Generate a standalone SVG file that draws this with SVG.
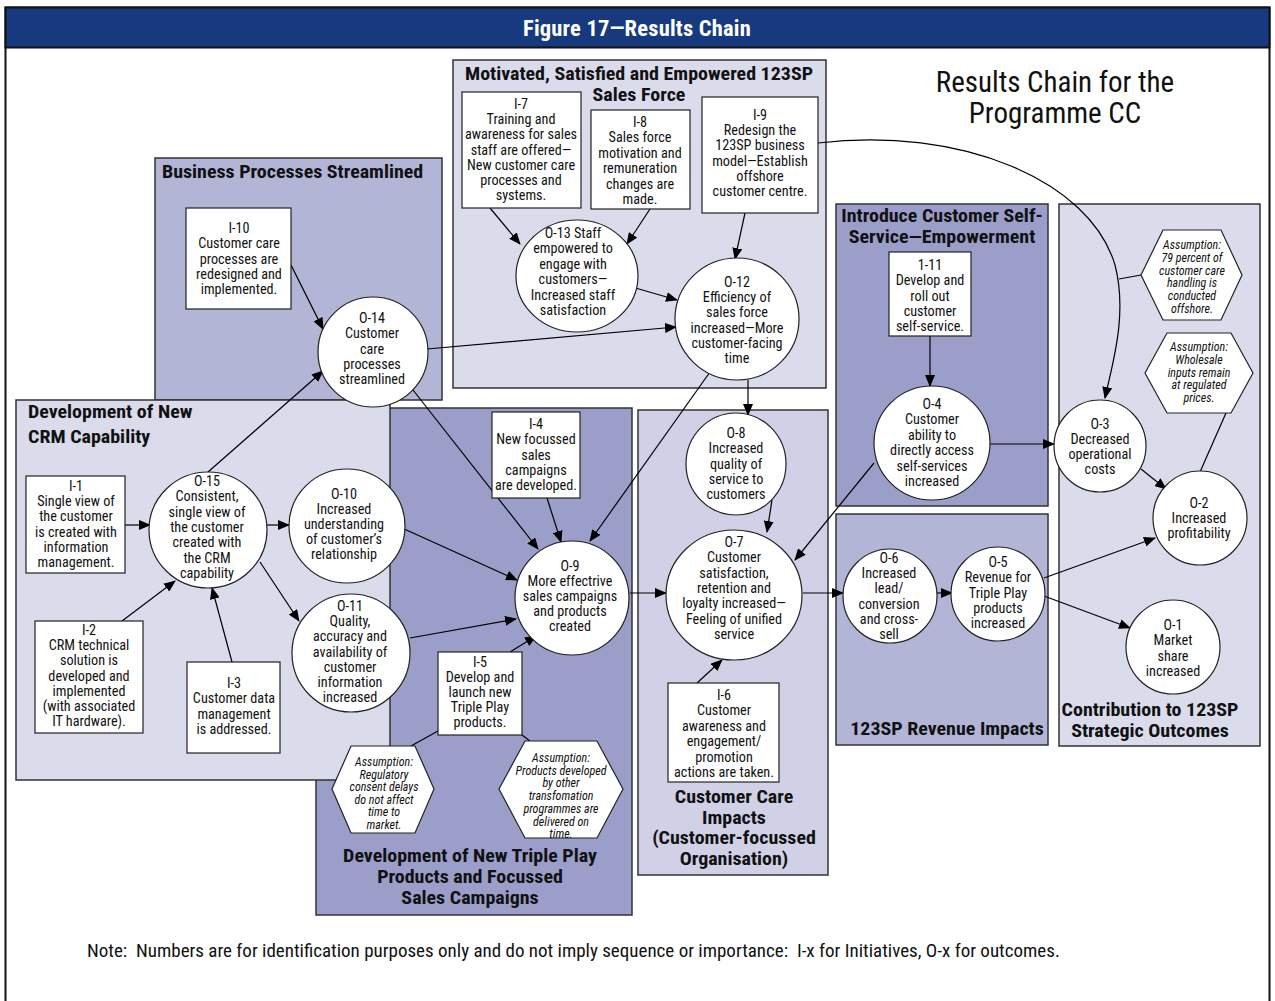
<svg xmlns="http://www.w3.org/2000/svg" width="1275" height="1001" viewBox="0 0 1275 1001">
  <defs>
    <marker id="arr" markerWidth="12" markerHeight="10" refX="11" refY="5" orient="auto" markerUnits="userSpaceOnUse">
      <path d="M0,0 L12,5 L0,10 Z" fill="#000"/>
    </marker>
    <style>
      text { font-family: "Liberation Sans Narrow", "Roboto Condensed", "DejaVu Sans Condensed", "Liberation Sans", sans-serif; fill: #111; }
      .n { font-size: 14.2px; text-anchor: middle; }
      .a { font-size: 12px; font-style: italic; text-anchor: middle; }
      .h { font-size: 18px; font-weight: bold; }
      .hc { font-size: 18px; font-weight: bold; text-anchor: middle; }
      .box { fill: #fff; stroke: #222; stroke-width: 1.2; }
      .circ { fill: #fff; stroke: #222; stroke-width: 1.2; }
      .hex { fill: #fff; stroke: #222; stroke-width: 1.2; }
      .pan { stroke: #333; stroke-width: 1.5; }
      .light { fill: #dadbeb; }
      .mid { fill: #b2b5d6; }
      .dark { fill: #9b9ec8; }
      .care { fill: #d0d1e6; }
      .con line, .con path { stroke: #000; stroke-width: 1.2; fill: none; }
    </style>
  </defs>

  <!-- page frame and heading band -->
  <rect x="5.5" y="7.5" width="1264" height="1000" fill="#fff" stroke="#111" stroke-width="2"/>
  <rect x="5.5" y="7.5" width="1264" height="40" fill="#173a7e" stroke="#111" stroke-width="2"/>
  <text x="637" y="35.5" style="font-size:22.5px;font-weight:bold;fill:#fff;text-anchor:middle;letter-spacing:0.2px">Figure 17—Results Chain</text>

  <text x="1055" y="92" style="font-size:29px;text-anchor:middle">Results Chain for the</text>
  <text x="1055" y="123" style="font-size:29px;text-anchor:middle">Programme CC</text>

  <!-- grouping panels (bold captions are widened horizontally) -->
  <g id="panel-triple-play">
    <rect class="pan dark" x="316" y="408" width="316" height="507"/>
    <text class="hc" transform="translate(470,862) scale(1.11,1)" x="0" y="0">Development of New Triple Play<tspan x="0" dy="21">Products and Focussed</tspan><tspan x="0" dy="21">Sales Campaigns</tspan></text>
  </g>
  <g id="panel-business-processes">
    <rect class="pan mid" x="155" y="158" width="287" height="242"/>
    <text class="h" transform="translate(162,178) scale(1.11,1)" x="0" y="0">Business Processes Streamlined</text>
  </g>
  <g id="panel-crm">
    <rect class="pan light" x="16" y="400" width="374" height="380"/>
    <text class="h" transform="translate(28,418) scale(1.11,1)" x="0" y="0">Development of New<tspan x="0" dy="25">CRM Capability</tspan></text>
  </g>
  <g id="panel-sales-force">
    <rect class="pan light" x="453" y="60" width="373" height="328"/>
    <text class="hc" transform="translate(639,80) scale(1.11,1)" x="0" y="0">Motivated, Satisfied and Empowered 123SP<tspan x="0" dy="21">Sales Force</tspan></text>
  </g>
  <g id="panel-customer-care">
    <rect class="pan care" x="638" y="410" width="190" height="465"/>
    <text class="hc" transform="translate(734,803) scale(1.11,1)" x="0" y="0">Customer Care<tspan x="0" dy="20.7">Impacts</tspan><tspan x="0" dy="20.7">(Customer-focussed</tspan><tspan x="0" dy="20.7">Organisation)</tspan></text>
  </g>
  <g id="panel-self-service">
    <rect class="pan dark" x="836" y="204" width="212" height="302"/>
    <text class="hc" transform="translate(942,222) scale(1.11,1)" x="0" y="0">Introduce Customer Self-<tspan x="0" dy="21">Service—Empowerment</tspan></text>
  </g>
  <g id="panel-revenue">
    <rect class="pan mid" x="836" y="514" width="212" height="231"/>
    <text class="hc" transform="translate(947,735) scale(1.11,1)" x="0" y="0">123SP Revenue Impacts</text>
  </g>
  <g id="panel-strategic">
    <rect class="pan light" x="1059" y="204" width="201" height="542"/>
    <text class="hc" transform="translate(1150,716) scale(1.11,1)" x="0" y="0">Contribution to 123SP<tspan x="0" dy="21">Strategic Outcomes</tspan></text>
  </g>

  <!-- connectors -->
  <g id="connectors" class="con">
    <line x1="490" y1="208" x2="520" y2="244" marker-end="url(#arr)"/>
    <line x1="650" y1="209" x2="627" y2="244" marker-end="url(#arr)"/>
    <line x1="745" y1="213" x2="735" y2="259" marker-end="url(#arr)"/>
    <line x1="632" y1="287" x2="677" y2="300" marker-end="url(#arr)"/>
    <line x1="427" y1="349" x2="676" y2="327" marker-end="url(#arr)"/>
    <line x1="291" y1="265" x2="323" y2="329" marker-end="url(#arr)"/>
    <line x1="208" y1="472" x2="323" y2="371" marker-end="url(#arr)"/>
    <line x1="413" y1="390" x2="538" y2="549" marker-end="url(#arr)"/>
    <line x1="547" y1="498" x2="561" y2="542" marker-end="url(#arr)"/>
    <line x1="710" y1="372" x2="590" y2="541" marker-end="url(#arr)"/>
    <line x1="748" y1="380" x2="748" y2="415" marker-end="url(#arr)"/>
    <line x1="402" y1="528" x2="517" y2="580" marker-end="url(#arr)"/>
    <line x1="410" y1="638" x2="516" y2="619" marker-end="url(#arr)"/>
    <line x1="510" y1="652" x2="536" y2="636" marker-end="url(#arr)"/>
    <line x1="125" y1="525" x2="150" y2="525" marker-end="url(#arr)"/>
    <line x1="267" y1="525" x2="289" y2="525" marker-end="url(#arr)"/>
    <line x1="260" y1="562" x2="299" y2="621" marker-end="url(#arr)"/>
    <line x1="122" y1="621" x2="175" y2="581" marker-end="url(#arr)"/>
    <line x1="232" y1="662" x2="212" y2="588" marker-end="url(#arr)"/>
    <line x1="630" y1="593" x2="666" y2="593" marker-end="url(#arr)"/>
    <line x1="772" y1="500" x2="767" y2="532" marker-end="url(#arr)"/>
    <line x1="874" y1="463" x2="795" y2="560" marker-end="url(#arr)"/>
    <line x1="697" y1="683" x2="722" y2="660" marker-end="url(#arr)"/>
    <line x1="803" y1="593" x2="843" y2="593" marker-end="url(#arr)"/>
    <line x1="937" y1="593" x2="952" y2="593" marker-end="url(#arr)"/>
    <line x1="930" y1="336" x2="930" y2="386" marker-end="url(#arr)"/>
    <line x1="990" y1="444" x2="1054" y2="444" marker-end="url(#arr)"/>
    <line x1="1141" y1="469" x2="1166" y2="489" marker-end="url(#arr)"/>
    <line x1="1044" y1="578" x2="1155" y2="538" marker-end="url(#arr)"/>
    <line x1="1044" y1="596" x2="1130" y2="628" marker-end="url(#arr)"/>
    <path d="M818,143 C960,126 1090,180 1115,265 C1128,315 1112,365 1105,398" marker-end="url(#arr)"/>
    <!-- assumption tie lines -->
    <line x1="1141" y1="275" x2="1119" y2="279"/>
    <line x1="1226" y1="413" x2="1200" y2="472"/>
    <line x1="438" y1="731" x2="411" y2="746"/>
    <line x1="522" y1="735" x2="530" y2="741"/>
  </g>

  <!-- initiatives and outcomes -->
  <g id="I-7"><rect class="box" x="462" y="92" width="119" height="116"/>
    <text class="n" x="521" y="109">I-7<tspan x="521" dy="15.2">Training and</tspan><tspan x="521" dy="15.2">awareness for sales</tspan><tspan x="521" dy="15.2">staff are offered—</tspan><tspan x="521" dy="15.2">New customer care</tspan><tspan x="521" dy="15.2">processes and</tspan><tspan x="521" dy="15.2">systems.</tspan></text></g>
  <g id="I-8"><rect class="box" x="591" y="110" width="99" height="99"/>
    <text class="n" x="640" y="127">I-8<tspan x="640" dy="15.4">Sales force</tspan><tspan x="640" dy="15.4">motivation and</tspan><tspan x="640" dy="15.4">remuneration</tspan><tspan x="640" dy="15.4">changes are</tspan><tspan x="640" dy="15.4">made.</tspan></text></g>
  <g id="I-9"><rect class="box" x="702" y="97" width="116" height="116"/>
    <text class="n" x="760" y="120">I-9<tspan x="760" dy="15.2">Redesign the</tspan><tspan x="760" dy="15.2">123SP business</tspan><tspan x="760" dy="15.2">model—Establish</tspan><tspan x="760" dy="15.2">offshore</tspan><tspan x="760" dy="15.2">customer centre.</tspan></text></g>
  <g id="O-13"><ellipse class="circ" cx="577" cy="276" rx="61" ry="56"/>
    <text class="n" x="573" y="238">O-13 Staff<tspan x="573" dy="15.4">empowered to</tspan><tspan x="573" dy="15.4">engage with</tspan><tspan x="573" dy="15.4">customers—</tspan><tspan x="573" dy="15.4">Increased staff</tspan><tspan x="573" dy="15.4">satisfaction</tspan></text></g>
  <g id="O-12"><ellipse class="circ" cx="737" cy="319" rx="62" ry="61"/>
    <text class="n" x="737" y="287">O-12<tspan x="737" dy="15.2">Efficiency of</tspan><tspan x="737" dy="15.2">sales force</tspan><tspan x="737" dy="15.2">increased—More</tspan><tspan x="737" dy="15.2">customer-facing</tspan><tspan x="737" dy="15.2">time</tspan></text></g>
  <g id="I-10"><rect class="box" x="186" y="208" width="105" height="101"/>
    <text class="n" x="239" y="233">I-10<tspan x="239" dy="15.25">Customer care</tspan><tspan x="239" dy="15.25">processes are</tspan><tspan x="239" dy="15.25">redesigned and</tspan><tspan x="239" dy="15.25">implemented.</tspan></text></g>
  <g id="O-14"><ellipse class="circ" cx="373" cy="352" rx="55" ry="55"/>
    <text class="n" x="372" y="323">O-14<tspan x="372" dy="15.25">Customer</tspan><tspan x="372" dy="15.25">care</tspan><tspan x="372" dy="15.25">processes</tspan><tspan x="372" dy="15.25">streamlined</tspan></text></g>
  <g id="I-1"><rect class="box" x="26" y="476" width="99" height="97"/>
    <text class="n" x="76" y="491">I-1<tspan x="76" dy="15.2">Single view of</tspan><tspan x="76" dy="15.2">the customer</tspan><tspan x="76" dy="15.2">is created with</tspan><tspan x="76" dy="15.2">information</tspan><tspan x="76" dy="15.2">management.</tspan></text></g>
  <g id="O-15"><ellipse class="circ" cx="208" cy="530" rx="59" ry="58"/>
    <text class="n" x="207" y="486">O-15<tspan x="207" dy="15.3">Consistent,</tspan><tspan x="207" dy="15.3">single view of</tspan><tspan x="207" dy="15.3">the customer</tspan><tspan x="207" dy="15.3">created with</tspan><tspan x="207" dy="15.3">the CRM</tspan><tspan x="207" dy="15.3">capability</tspan></text></g>
  <g id="O-10"><ellipse class="circ" cx="347" cy="526" rx="58" ry="57"/>
    <text class="n" x="344" y="499">O-10<tspan x="344" dy="15">Increased</tspan><tspan x="344" dy="15">understanding</tspan><tspan x="344" dy="15">of customer’s</tspan><tspan x="344" dy="15">relationship</tspan></text></g>
  <g id="O-11"><ellipse class="circ" cx="351" cy="653" rx="59" ry="59"/>
    <text class="n" x="350" y="611">O-11<tspan x="350" dy="15.2">Quality,</tspan><tspan x="350" dy="15.2">accuracy and</tspan><tspan x="350" dy="15.2">availability of</tspan><tspan x="350" dy="15.2">customer</tspan><tspan x="350" dy="15.2">information</tspan><tspan x="350" dy="15.2">increased</tspan></text></g>
  <g id="I-2"><rect class="box" x="35" y="621" width="108" height="112"/>
    <text class="n" x="89" y="635">I-2<tspan x="89" dy="15.2">CRM technical</tspan><tspan x="89" dy="15.2">solution is</tspan><tspan x="89" dy="15.2">developed and</tspan><tspan x="89" dy="15.2">implemented</tspan><tspan x="89" dy="15.2">(with associated</tspan><tspan x="89" dy="15.2">IT hardware).</tspan></text></g>
  <g id="I-3"><rect class="box" x="187" y="662" width="93" height="91"/>
    <text class="n" x="234" y="688">I-3<tspan x="234" dy="15.3">Customer data</tspan><tspan x="234" dy="15.3">management</tspan><tspan x="234" dy="15.3">is addressed.</tspan></text></g>
  <g id="I-4"><rect class="box" x="492" y="412" width="88" height="86"/>
    <text class="n" x="536" y="429">I-4<tspan x="536" dy="15.25">New focussed</tspan><tspan x="536" dy="15.25">sales</tspan><tspan x="536" dy="15.25">campaigns</tspan><tspan x="536" dy="15.25">are developed.</tspan></text></g>
  <g id="O-9"><ellipse class="circ" cx="572" cy="598" rx="57" ry="57"/>
    <text class="n" x="570" y="571">O-9<tspan x="570" dy="15">More effectrive</tspan><tspan x="570" dy="15">sales campaigns</tspan><tspan x="570" dy="15">and products</tspan><tspan x="570" dy="15">created</tspan></text></g>
  <g id="I-5"><rect class="box" x="438" y="652" width="84" height="83"/>
    <text class="n" x="480" y="667">I-5<tspan x="480" dy="15">Develop and</tspan><tspan x="480" dy="15">launch new</tspan><tspan x="480" dy="15">Triple Play</tspan><tspan x="480" dy="15">products.</tspan></text></g>
  <g id="O-8"><ellipse class="circ" cx="736" cy="464" rx="50" ry="51"/>
    <text class="n" x="736" y="438">O-8<tspan x="736" dy="15.25">Increased</tspan><tspan x="736" dy="15.25">quality of</tspan><tspan x="736" dy="15.25">service to</tspan><tspan x="736" dy="15.25">customers</tspan></text></g>
  <g id="O-7"><ellipse class="circ" cx="734" cy="595" rx="68" ry="65"/>
    <text class="n" x="734" y="547">O-7<tspan x="734" dy="15.3">Customer</tspan><tspan x="734" dy="15.3">satisfaction,</tspan><tspan x="734" dy="15.3">retention and</tspan><tspan x="734" dy="15.3">loyalty increased—</tspan><tspan x="734" dy="15.3">Feeling of unified</tspan><tspan x="734" dy="15.3">service</tspan></text></g>
  <g id="I-6"><rect class="box" x="668" y="683" width="111" height="99"/>
    <text class="n" x="724" y="700">I-6<tspan x="724" dy="15.4">Customer</tspan><tspan x="724" dy="15.4">awareness and</tspan><tspan x="724" dy="15.4">engagement/</tspan><tspan x="724" dy="15.4">promotion</tspan><tspan x="724" dy="15.4">actions are taken.</tspan></text></g>
  <g id="I-11"><rect class="box" x="889" y="252" width="82" height="84"/>
    <text class="n" x="930" y="270">1-11<tspan x="930" dy="15.25">Develop and</tspan><tspan x="930" dy="15.25">roll out</tspan><tspan x="930" dy="15.25">customer</tspan><tspan x="930" dy="15.25">self-service.</tspan></text></g>
  <g id="O-4"><ellipse class="circ" cx="932" cy="443" rx="58" ry="57"/>
    <text class="n" x="932" y="409">O-4<tspan x="932" dy="15.4">Customer</tspan><tspan x="932" dy="15.4">ability to</tspan><tspan x="932" dy="15.4">directly access</tspan><tspan x="932" dy="15.4">self-services</tspan><tspan x="932" dy="15.4">increased</tspan></text></g>
  <g id="O-6"><ellipse class="circ" cx="890" cy="596" rx="47" ry="47"/>
    <text class="n" x="889" y="563">O-6<tspan x="889" dy="15.2">Increased</tspan><tspan x="889" dy="15.2">lead/</tspan><tspan x="889" dy="15.2">conversion</tspan><tspan x="889" dy="15.2">and cross-</tspan><tspan x="889" dy="15.2">sell</tspan></text></g>
  <g id="O-5"><ellipse class="circ" cx="998" cy="594" rx="47" ry="47"/>
    <text class="n" x="998" y="567">O-5<tspan x="998" dy="15.25">Revenue for</tspan><tspan x="998" dy="15.25">Triple Play</tspan><tspan x="998" dy="15.25">products</tspan><tspan x="998" dy="15.25">increased</tspan></text></g>
  <g id="O-3"><ellipse class="circ" cx="1100" cy="446" rx="46" ry="46"/>
    <text class="n" x="1100" y="429">O-3<tspan x="1100" dy="15">Decreased</tspan><tspan x="1100" dy="15">operational</tspan><tspan x="1100" dy="15">costs</tspan></text></g>
  <g id="O-2"><ellipse class="circ" cx="1200" cy="518" rx="47" ry="47"/>
    <text class="n" x="1199" y="508">O-2<tspan x="1199" dy="15">Increased</tspan><tspan x="1199" dy="15">profitability</tspan></text></g>
  <g id="O-1"><ellipse class="circ" cx="1173" cy="647" rx="47" ry="47"/>
    <text class="n" x="1173" y="630">O-1<tspan x="1173" dy="15.3">Market</tspan><tspan x="1173" dy="15.3">share</tspan><tspan x="1173" dy="15.3">increased</tspan></text></g>

  <!-- assumptions -->
  <g id="assumption-regulatory"><polygon class="hex" points="332,789 351,746 415,746 434,789 415,833 351,833"/>
    <text class="a" x="384" y="766">Assumption:<tspan x="384" dy="12.6">Regulatory</tspan><tspan x="384" dy="12.6">consent delays</tspan><tspan x="384" dy="12.6">do not affect</tspan><tspan x="384" dy="12.6">time to</tspan><tspan x="384" dy="12.6">market.</tspan></text></g>
  <g id="assumption-products"><polygon class="hex" points="499,789 525,741 597,741 623,789 597,838 525,838"/>
    <text class="a" x="561" y="762">Assumption:<tspan x="561" dy="12.7">Products developed</tspan><tspan x="561" dy="12.7">by other</tspan><tspan x="561" dy="12.7">transfomation</tspan><tspan x="561" dy="12.7">programmes are</tspan><tspan x="561" dy="12.7">delivered on</tspan><tspan x="561" dy="12.7">time.</tspan></text></g>
  <g id="assumption-offshore"><polygon class="hex" points="1141,275 1163,230 1221,230 1242,275 1221,320 1163,320"/>
    <text class="a" x="1192" y="249">Assumption:<tspan x="1192" dy="12.8">79 percent of</tspan><tspan x="1192" dy="12.8">customer care</tspan><tspan x="1192" dy="12.8">handling is</tspan><tspan x="1192" dy="12.8">conducted</tspan><tspan x="1192" dy="12.8">offshore.</tspan></text></g>
  <g id="assumption-wholesale"><polygon class="hex" points="1145,373 1167,333 1231,333 1253,373 1231,413 1167,413"/>
    <text class="a" x="1199" y="351">Assumption:<tspan x="1199" dy="12.75">Wholesale</tspan><tspan x="1199" dy="12.75">inputs remain</tspan><tspan x="1199" dy="12.75">at regulated</tspan><tspan x="1199" dy="12.75">prices.</tspan></text></g>

  <text x="87" y="957" xml:space="preserve" style="font-size:19px">Note:  Numbers are for identification purposes only and do not imply sequence or importance:  I-x for Initiatives, O-x for outcomes.</text>
</svg>
